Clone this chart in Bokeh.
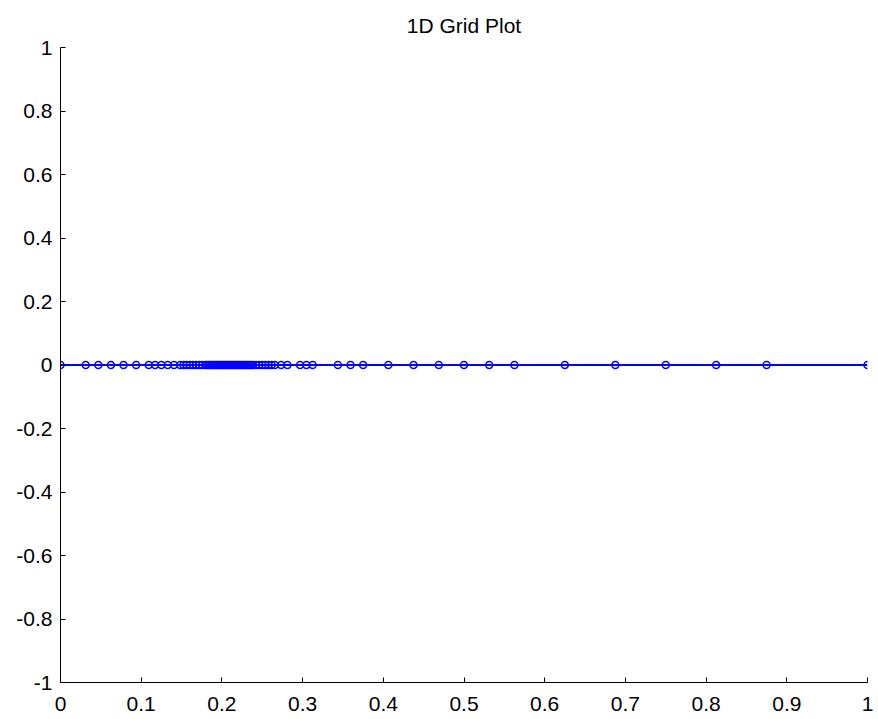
from bokeh.plotting import figure
from bokeh.models import Range1d, FixedTicker
from bokeh.embed import file_html
from bokeh.resources import INLINE

# grid node positions
grid_x = [0.0, 0.03125, 0.046875, 0.0625, 0.078125, 0.09375, 0.109375, 0.1171875,
          0.125, 0.1328125, 0.140625, 0.1484375, 0.15234375, 0.15625, 0.16015625,
          0.1640625, 0.16796875, 0.171875, 0.17578125, 0.1796875, 0.181640625,
          0.18359375, 0.185546875, 0.1875, 0.189453125, 0.19140625, 0.193359375,
          0.1953125, 0.197265625, 0.19921875, 0.201171875, 0.203125, 0.205078125,
          0.20703125, 0.208984375, 0.2109375, 0.212890625, 0.21484375, 0.216796875,
          0.21875, 0.220703125, 0.22265625, 0.224609375, 0.2265625, 0.228515625,
          0.23046875, 0.232421875, 0.234375, 0.236328125, 0.23828125, 0.2421875,
          0.24609375, 0.25, 0.25390625, 0.2578125, 0.26171875, 0.265625, 0.2734375,
          0.28125, 0.296875, 0.3046875, 0.3125, 0.34375, 0.359375, 0.375, 0.40625,
          0.4375, 0.46875, 0.5, 0.53125, 0.5625, 0.625, 0.6875, 0.75, 0.8125,
          0.875, 1.0]
grid_y = [0, 0, 0, 0, 0, 0, 0, 0, 0, 0, 0,
          0, 0, 0, 0, 0, 0, 0, 0, 0, 0, 0,
          0, 0, 0, 0, 0, 0, 0, 0, 0, 0, 0,
          0, 0, 0, 0, 0, 0, 0, 0, 0, 0, 0,
          0, 0, 0, 0, 0, 0, 0, 0, 0, 0, 0,
          0, 0, 0, 0, 0, 0, 0, 0, 0, 0, 0,
          0, 0, 0, 0, 0, 0, 0, 0, 0, 0, 0]

x_ticks = [0, 0.1, 0.2, 0.3, 0.4, 0.5, 0.6, 0.7, 0.8, 0.9, 1]
x_tick_labels = ["0", "0.1", "0.2", "0.3", "0.4", "0.5", "0.6", "0.7", "0.8", "0.9", "1"]
y_ticks = [-1, -0.8, -0.6, -0.4, -0.2, 0, 0.2, 0.4, 0.6, 0.8, 1]
y_tick_labels = ["-1", "-0.8", "-0.6", "-0.4", "-0.2", "0", "0.2", "0.4", "0.6", "0.8", "1"]

title_text = "1D Grid Plot"
FONT = "Liberation Sans"

p = figure(width=878, height=719, output_backend="svg", toolbar_location=None,
           x_range=Range1d(0, 1), y_range=Range1d(-1, 1),
           title=title_text, min_border_left=60, min_border_right=11,
           min_border_top=0, min_border_bottom=37)

p.title.align = "center"
p.title.text_font = FONT
p.title.text_font_size = "21px"
p.title.text_font_style = "normal"
p.title.text_color = "black"
p.title.standoff = 22

p.xgrid.visible = False
p.ygrid.visible = False
p.outline_line_color = None
p.background_fill_color = "white"
p.border_fill_color = "white"

for ax, ticks, labels in ((p.xaxis[0], x_ticks, x_tick_labels),
                          (p.yaxis[0], y_ticks, y_tick_labels)):
    ax.ticker = FixedTicker(ticks=ticks)
    ax.major_label_overrides = {t: l for t, l in zip(ticks, labels)}
    ax.major_label_text_font = FONT
    ax.major_label_text_font_size = "21px"
    ax.major_label_text_color = "black"
    ax.axis_line_color = "black"
    ax.major_tick_line_color = "black"
    ax.major_tick_in = 5
    ax.major_tick_out = 0
    ax.minor_tick_line_color = None
    ax.axis_line_width = 1

p.yaxis[0].major_label_standoff = 8
p.xaxis[0].major_label_standoff = 14

p.line(grid_x, grid_y, line_color="#0000ff", line_width=2)
p.scatter(grid_x, grid_y, marker="circle", size=7, fill_color=None,
          line_color="#0000ff", line_width=1.5)

open("out.html", "w").write(file_html(p, INLINE))
